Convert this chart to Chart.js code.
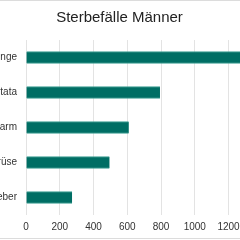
<!DOCTYPE html>
<html>
<head>
<meta charset="utf-8">
<script src="https://cdn.jsdelivr.net/npm/chart.js@4/dist/chart.umd.min.js"></script>
<style>
html,body{margin:0;padding:0;background:#fff;}
#frame{position:relative;width:240px;height:240px;overflow:hidden;background:#fff;}
#wrap{position:absolute;left:-57px;top:0;width:378px;height:240px;}
.line{position:absolute;left:0;width:240px;height:1px;background:#dcdcdc;}
</style>
</head>
<body>
<div id="frame">
  <div id="wrap"><canvas id="c"></canvas></div>
  <div class="line" style="top:0"></div>
  <div class="line" style="top:238px"></div>
</div>
<script>
const categories = ["Lunge", "Prostata", "Darm", "Bauchspeicheldrüse", "Leber"];
const deaths = [1450, 794, 609, 495, 273];
const titleText = "Sterbefälle Männer";

const FONT = "'Liberation Sans', Arial, Helvetica, sans-serif";
new Chart(document.getElementById('c'), {
  type: 'bar',
  data: {
    labels: categories,
    datasets: [{
      data: deaths,
      backgroundColor: '#006e64',
      borderColor: '#3a9e92',
      borderWidth: {top: 1, bottom: 1, left: 0, right: 0},
      borderSkipped: false,
      barThickness: 12
    }]
  },
  options: {
    indexAxis: 'y',
    responsive: true,
    maintainAspectRatio: false,
    animation: false,
    layout: { padding: { top: 0, right: 25, bottom: 7, left: 0 } },
    plugins: {
      legend: { display: false },
      tooltip: { enabled: false },
      title: {
        display: true,
        text: titleText,
        color: '#222',
        font: { family: FONT, size: 15, weight: 'normal' },
        padding: { top: 9, bottom: 13 }
      }
    },
    scales: {
      x: {
        min: 0,
        max: 1600,
        ticks: {
          stepSize: 200, color: '#333', padding: 6, font: { family: FONT, size: 10 },
          callback: (v) => String(v)
        },
        grid: { color: '#e3e3e3', drawTicks: false },
        border: { display: false },
        afterFit: (s) => { s.height = 18; }
      },
      y: {
        ticks: { color: '#333', padding: 9, font: { family: FONT, size: 10 } },
        grid: { display: false, drawTicks: false },
        border: { display: false },
        afterFit: (s) => { s.width = 83; }
      }
    }
  }
});
</script>
</body>
</html>
